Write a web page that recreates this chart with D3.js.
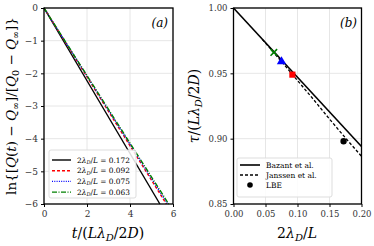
<!DOCTYPE html>
<html>
<head>
<meta charset="utf-8">
<script src="https://d3js.org/d3.v7.min.js"></script>
<style>
  body { margin: 0; background: #fff; }
  text { font-family: "DejaVu Serif", "Liberation Serif", serif; }
  .grid line { stroke: #e0e0e0; stroke-width: 0.8; }
</style>
</head>
<body>
<script>
// panel (a): decay curves, endpoints
var ratios = ["0.172", "0.092", "0.075", "0.063"];
var decayLines = [
  [[0, 0], [5.39, -6]],
  [[0, 0], [5.69, -6]],
  [[0, 0], [5.75, -6]],
  [[0, 0], [5.80, -6]]
];
var decayColors = ["#000000", "#ff0000", "#0000ff", "#008000"];
var decayDash = ["", "3,2", "1,1.3", "5,1.5,1,1.5"];
var aTicksX = [0, 2, 4, 6];
var aTicksY = [0, -1, -2, -3, -4, -5, -6];

// panel (b): relaxation time vs 2lambda/L
var bazant = [[0, 1.0], [0.2, 0.894]];
var janssen = [[0.045, 0.9760], [0.075, 0.9590], [0.1, 0.9445], [0.125, 0.9300], [0.15, 0.9150], [0.175, 0.9005], [0.2, 0.8865]];
var lbeX = [0.172, 0.092, 0.075, 0.063];
var lbeY = [0.898, 0.949, 0.959, 0.966];
var bTicksX = [0, 0.05, 0.10, 0.15, 0.20];
var bTicksY = [0.85, 0.90, 0.95, 1.00];

var w = 374, h = 246;
var svg = d3.select("body").append("svg").attr("width", w).attr("height", h);

// ---------- panel a ----------
var xa = d3.scaleLinear().domain([0, 6]).range([44, 173]);
var ya = d3.scaleLinear().domain([-6, 0]).range([204, 8]);

var ga = svg.append("g");
ga.append("g").attr("class", "grid").selectAll("line").data(aTicksX).enter().append("line")
  .attr("x1", d => xa(d)).attr("x2", d => xa(d)).attr("y1", 8).attr("y2", 204);
ga.append("g").attr("class", "grid").selectAll("line").data(aTicksY).enter().append("line")
  .attr("y1", d => ya(d)).attr("y2", d => ya(d)).attr("x1", 44).attr("x2", 173);

var lineA = d3.line().x(d => xa(d[0])).y(d => ya(d[1]));
decayLines.forEach(function(pts, i) {
  ga.append("path").datum(pts).attr("d", lineA)
    .attr("fill", "none").attr("stroke", decayColors[i]).attr("stroke-width", 1.4)
    .attr("stroke-dasharray", decayDash[i]);
});

var axA = ga.append("g").attr("transform", "translate(0,204)")
  .call(d3.axisBottom(xa).tickValues(aTicksX).tickSize(3).tickPadding(4).tickFormat(d3.format("d")));
var ayA = ga.append("g").attr("transform", "translate(44,0)")
  .call(d3.axisLeft(ya).tickValues(aTicksY).tickSize(3).tickPadding(3).tickFormat(d => d < 0 ? "\u2212" + (-d) : d));
[axA, ayA].forEach(function(a) {
  a.select(".domain").remove();
  a.selectAll("text").attr("font-family", "DejaVu Serif").attr("font-size", 9).attr("fill", "#333");
  a.selectAll("line").attr("stroke", "#000");
});
ga.append("rect").attr("x", 44).attr("y", 8).attr("width", 129).attr("height", 196)
  .attr("fill", "none").attr("stroke", "#000").attr("stroke-width", 1.3);

ga.append("text").attr("x", 168).attr("y", 27).attr("text-anchor", "end")
  .attr("font-size", 12).attr("font-style", "italic").text("(a)");

// legend a
var lga = ga.append("g");
lga.append("rect").attr("x", 49).attr("y", 150).attr("width", 87).attr("height", 48).attr("rx", 2)
  .attr("fill", "#fff").attr("fill-opacity", 0.85).attr("stroke", "#ddd");
ratios.forEach(function(r, i) {
  var yy = 160 + i * 10.7;
  lga.append("line").attr("x1", 52).attr("x2", 71).attr("y1", yy).attr("y2", yy)
    .attr("stroke", decayColors[i]).attr("stroke-width", 1.4).attr("stroke-dasharray", decayDash[i]);
  var t = lga.append("text").attr("x", 77).attr("y", yy + 2.5).attr("font-size", 7.4);
  t.append("tspan").text("2");
  t.append("tspan").attr("font-style", "italic").text("\u03bb");
  t.append("tspan").attr("font-style", "italic").attr("font-size", 5).attr("dy", 1.5).text("D");
  t.append("tspan").attr("dy", -1.5).text("/");
  t.append("tspan").attr("font-style", "italic").text("L");
  t.append("tspan").text(" = " + r);
});

// axis labels a
var xla = ga.append("text").attr("x", 108).attr("y", 238).attr("text-anchor", "middle").attr("font-size", 14);
xla.append("tspan").attr("font-style", "italic").text("t");
xla.append("tspan").text("/(");
xla.append("tspan").attr("font-style", "italic").text("L\u03bb");
xla.append("tspan").attr("font-style", "italic").attr("font-size", 10).attr("dy", 3).text("D");
xla.append("tspan").attr("dy", -3).text("/2");
xla.append("tspan").attr("font-style", "italic").text("D");
xla.append("tspan").text(")");

var yla = ga.append("text").attr("transform", "translate(16,106) rotate(-90)")
  .attr("text-anchor", "middle").attr("font-size", 13.5);
yla.append("tspan").text("ln{[");
yla.append("tspan").attr("font-style", "italic").text("Q");
yla.append("tspan").text("(");
yla.append("tspan").attr("font-style", "italic").text("t");
yla.append("tspan").text(") \u2212 ");
yla.append("tspan").attr("font-style", "italic").text("Q");
yla.append("tspan").attr("font-size", 9.5).attr("dy", 3).text("\u221e");
yla.append("tspan").attr("dy", -3).text("]/[");
yla.append("tspan").attr("font-style", "italic").text("Q");
yla.append("tspan").attr("font-size", 9.5).attr("dy", 3).text("0");
yla.append("tspan").attr("dy", -3).text(" \u2212 ");
yla.append("tspan").attr("font-style", "italic").text("Q");
yla.append("tspan").attr("font-size", 9.5).attr("dy", 3).text("\u221e");
yla.append("tspan").attr("dy", -3).text("]}");

// ---------- panel b ----------
var xb = d3.scaleLinear().domain([0, 0.2]).range([233.5, 361.5]);
var yb = d3.scaleLinear().domain([0.85, 1.0]).range([204, 8]);

var gb = svg.append("g");
gb.append("g").attr("class", "grid").selectAll("line").data(bTicksX).enter().append("line")
  .attr("x1", d => xb(d)).attr("x2", d => xb(d)).attr("y1", 8).attr("y2", 204);
gb.append("g").attr("class", "grid").selectAll("line").data(bTicksY).enter().append("line")
  .attr("y1", d => yb(d)).attr("y2", d => yb(d)).attr("x1", 233.5).attr("x2", 361.5);

var lineB = d3.line().x(d => xb(d[0])).y(d => yb(d[1]));
gb.append("path").datum(bazant).attr("d", lineB).attr("fill", "none")
  .attr("stroke", "#000").attr("stroke-width", 1.6);
gb.append("path").datum(janssen).attr("d", lineB).attr("fill", "none")
  .attr("stroke", "#000").attr("stroke-width", 1.3).attr("stroke-dasharray", "3,2");

// LBE markers, colours match the decay curves of panel a
var mk = [d3.symbolCircle, d3.symbolSquare, d3.symbolTriangle, d3.symbolCross];
lbeX.forEach(function(x, i) {
  if (i === 3) {
    gb.append("path").attr("d", d3.symbol().type(d3.symbolX).size(30))
      .attr("transform", "translate(" + xb(x) + "," + yb(lbeY[i]) + ")")
      .attr("stroke", decayColors[i]).attr("stroke-width", 1.6).attr("fill", "none");
  } else {
    gb.append("path").attr("d", d3.symbol().type(mk[i]).size(i === 0 ? 32 : 38))
      .attr("transform", "translate(" + xb(x) + "," + yb(lbeY[i]) + ")")
      .attr("fill", decayColors[i]);
  }
});

var axB = gb.append("g").attr("transform", "translate(0,204)")
  .call(d3.axisBottom(xb).tickValues(bTicksX).tickSize(3).tickPadding(4).tickFormat(d3.format(".2f")));
var ayB = gb.append("g").attr("transform", "translate(233.5,0)")
  .call(d3.axisLeft(yb).tickValues(bTicksY).tickSize(3).tickPadding(3).tickFormat(d3.format(".2f")));
[axB, ayB].forEach(function(a) {
  a.select(".domain").remove();
  a.selectAll("text").attr("font-family", "DejaVu Serif").attr("font-size", 8.5).attr("fill", "#333");
  a.selectAll("line").attr("stroke", "#000");
});
gb.append("rect").attr("x", 233.5).attr("y", 8).attr("width", 128).attr("height", 196)
  .attr("fill", "none").attr("stroke", "#000").attr("stroke-width", 1.3);

gb.append("text").attr("x", 357).attr("y", 27).attr("text-anchor", "end")
  .attr("font-size", 12).attr("font-style", "italic").text("(b)");

// legend b
var lgb = gb.append("g");
lgb.append("rect").attr("x", 237).attr("y", 158).attr("width", 95).attr("height", 39).attr("rx", 2)
  .attr("fill", "#fff").attr("fill-opacity", 0.85).attr("stroke", "#ddd");
var bNames = ["Bazant et al.", "Janssen et al.", "LBE"];
bNames.forEach(function(n, i) {
  var yy = 165 + i * 10;
  if (i < 2) {
    lgb.append("line").attr("x1", 240).attr("x2", 260).attr("y1", yy).attr("y2", yy)
      .attr("stroke", "#000").attr("stroke-width", i === 0 ? 1.6 : 1.3)
      .attr("stroke-dasharray", i === 0 ? "" : "3,2");
  } else {
    lgb.append("circle").attr("cx", 250).attr("cy", yy).attr("r", 2.8).attr("fill", "#000");
  }
  lgb.append("text").attr("x", 266).attr("y", yy + 3).attr("font-family", "DejaVu Sans")
    .attr("font-size", 7.5).text(n);
});

// axis labels b
var xlb = gb.append("text").attr("x", 297).attr("y", 238).attr("text-anchor", "middle").attr("font-size", 14);
xlb.append("tspan").text("2");
xlb.append("tspan").attr("font-style", "italic").text("\u03bb");
xlb.append("tspan").attr("font-style", "italic").attr("font-size", 10).attr("dy", 3).text("D");
xlb.append("tspan").attr("dy", -3).text("/");
xlb.append("tspan").attr("font-style", "italic").text("L");

var ylb = gb.append("text").attr("transform", "translate(199,106) rotate(-90)")
  .attr("text-anchor", "middle").attr("font-size", 14);
ylb.append("tspan").attr("font-style", "italic").text("\u03c4");
ylb.append("tspan").text("/(");
ylb.append("tspan").attr("font-style", "italic").text("L\u03bb");
ylb.append("tspan").attr("font-style", "italic").attr("font-size", 10).attr("dy", 3).text("D");
ylb.append("tspan").attr("dy", -3).text("/2");
ylb.append("tspan").attr("font-style", "italic").text("D");
ylb.append("tspan").text(")");
</script>
</body>
</html>
